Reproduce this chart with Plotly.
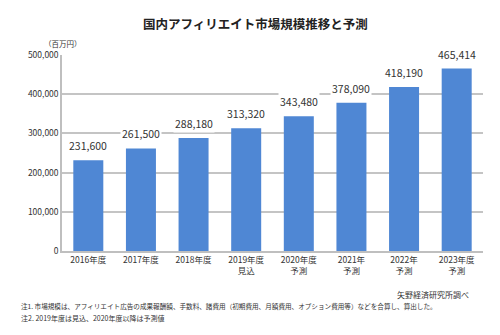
import plotly.graph_objects as go

# 国内アフィリエイト市場規模（百万円）
categories = ["2016年度", "2017年度", "2018年度", "2019年度<br>見込", "2020年度<br>予測",
              "2021年<br>予測", "2022年<br>予測", "2023年度<br>予測"]
values = [231600, 261500, 288180, 313320, 343480, 378090, 418190, 465414]
y_ticks = [0, 100000, 200000, 300000, 400000, 500000]

FONT = "Noto Sans CJK JP"
BAR_COLOR = "#4F87D4"

fig = go.Figure()
fig.add_trace(go.Bar(
    x=categories, y=values,
    marker=dict(color=BAR_COLOR, line=dict(width=0)),
    hoverinfo="skip",
))

# value labels with white backing so gridlines break around them
for c, v in zip(categories, values):
    fig.add_annotation(
        x=c, y=v, xref="x", yref="y", text=f"{v:,}",
        showarrow=False, yanchor="bottom", yshift=5,
        bgcolor="white", borderpad=1,
        font=dict(family=FONT, size=10.5, color="#333333"),
    )

fig.add_annotation(text="<b>国内アフィリエイト市場規模推移と予測</b>", xref="paper", yref="paper",
                   x=0.46, y=1, yshift=32, xanchor="center", yanchor="middle", showarrow=False,
                   font=dict(family=FONT, size=12.5, color="#222222"))
fig.add_annotation(text="（百万円）", xref="paper", yref="paper", x=0, y=1, xshift=-20, yshift=12,
                   xanchor="left", yanchor="middle", showarrow=False,
                   font=dict(family=FONT, size=7.5, color="#333333"))
fig.add_annotation(text="矢野経済研究所調べ", xref="paper", yref="paper", x=1, y=0, xshift=-12, yshift=-43,
                   xanchor="right", yanchor="middle", showarrow=False,
                   font=dict(family=FONT, size=8, color="#333333"))
fig.add_annotation(text="注1. 市場規模は、アフィリエイト広告の成果報酬額、手数料、諸費用（初期費用、月額費用、オプション費用等）などを合算し、算出した。",
                   xref="paper", yref="paper", x=0, y=0, xshift=-43, yshift=-55,
                   xanchor="left", yanchor="middle", showarrow=False,
                   font=dict(family=FONT, size=6.6, color="#333333"))
fig.add_annotation(text="注2. 2019年度は見込、2020年度以降は予測値",
                   xref="paper", yref="paper", x=0, y=0, xshift=-43, yshift=-67,
                   xanchor="left", yanchor="middle", showarrow=False,
                   font=dict(family=FONT, size=7, color="#333333"))

fig.update_layout(
    width=500, height=335,
    margin=dict(l=62, r=17, t=55, b=84),
    paper_bgcolor="white", plot_bgcolor="white",
    bargap=0.43, showlegend=False,
    font=dict(family=FONT, size=9, color="#333333"),
    xaxis=dict(showgrid=False, showline=True, linecolor="#BFBFBF", linewidth=1.5,
               ticks="", tickfont=dict(size=8.5), fixedrange=True),
    yaxis=dict(range=[0, 500000], tickvals=y_ticks, ticktext=[f"{t:,}" for t in y_ticks],
               showgrid=True, gridcolor="#C4C4C4", gridwidth=1.5,
               showline=True, linecolor="#BFBFBF", linewidth=1.5,
               ticks="", ticklen=0, tickfont=dict(size=8.5), zeroline=False, fixedrange=True),
)

fig.write_html("out.html")
